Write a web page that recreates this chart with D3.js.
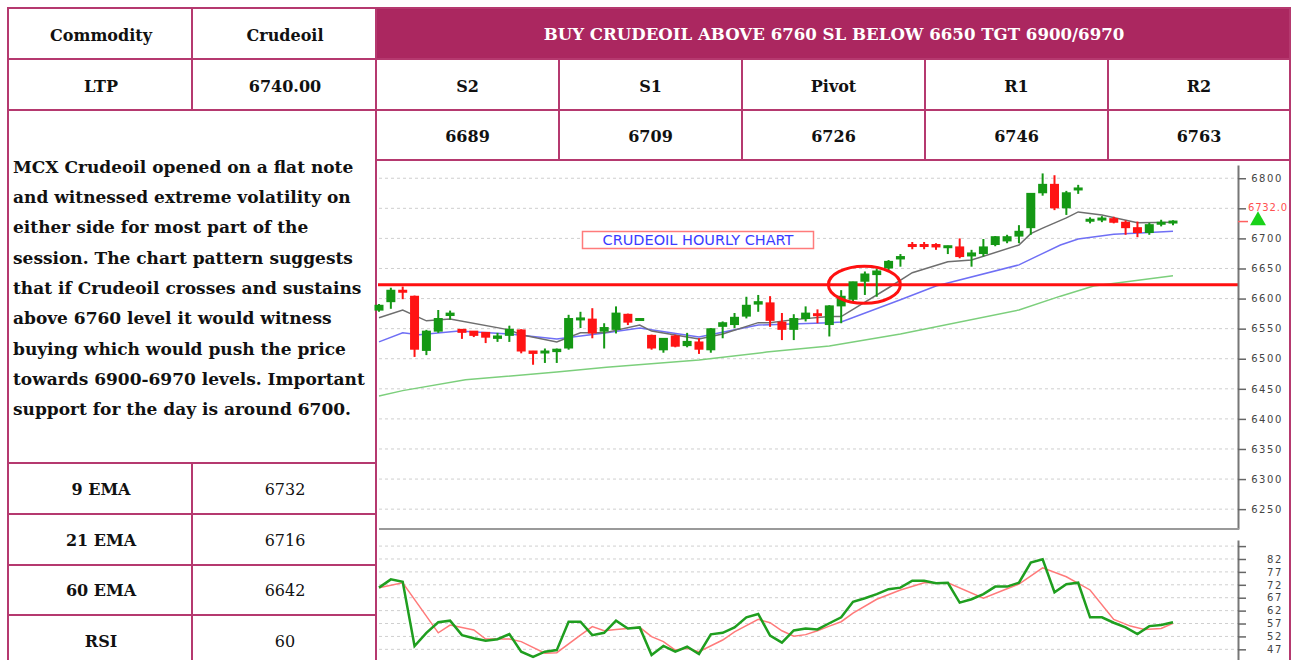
<!DOCTYPE html>
<html>
<head>
<meta charset="utf-8">
<script src="https://cdn.jsdelivr.net/npm/d3@7"></script>
<style>
  body { margin: 0; background: #fff; }
  svg { display: block; }
</style>
</head>
<body>
<svg id="drawing_region"></svg>
<script>
// ---- table content ----
var levelNames = ['S2', 'S1', 'Pivot', 'R1', 'R2'];
var levelValues = ['6689', '6709', '6726', '6746', '6763'];
var indNames = ['9 EMA', '21 EMA', '60 EMA', 'RSI'];
var indValues = ['6732', '6716', '6642', '60'];
var headline = 'BUY CRUDEOIL ABOVE 6760 SL BELOW 6650 TGT 6900/6970';
var descLines = [
    'MCX Crudeoil opened on a flat note',
    'and witnessed extreme volatility on',
    'either side for most part of the',
    'session. The chart pattern suggests',
    'that if Crudeoil crosses and sustains',
    'above 6760 level it would witness',
    'buying which would push the price',
    'towards 6900-6970 levels. Important',
    'support for the day is around 6700.'
];

// ---- hourly candles ----
var opens  = [6580,6594,6613,6603,6513,6545,6571,6548,6545,6543,6533,6538,6547,6512,6509,6511,6517,6565,6565,6545,
              6548,6573,6565,6538,6514,6537,6521,6527,6514,6553,6556,6570,6590,6592,6560,6548,6566,6574,6556,6587,
              6598,6628,6639,6650,6665,6689,6689,6689,6685,6685,6670,6674,6689,6695,6703,6717,6775,6789,6750,6781,
              6729,6731,6732,6726,6717,6709,6724,6726];
var highs  = [6591,6618,6620,6605,6548,6581,6580,6549,6546,6544,6543,6555,6549,6513,6517,6517,6573,6578,6584,6559,
              6587,6575,6567,6540,6534,6540,6543,6534,6551,6562,6576,6603,6606,6604,6576,6574,6587,6582,6589,6614,
              6628,6645,6650,6664,6674,6694,6694,6692,6688,6700,6681,6699,6704,6706,6722,6775,6808,6805,6779,6789,
              6735,6737,6736,6730,6728,6726,6731,6730];
var lows   = [6578,6583,6599,6503,6506,6543,6565,6533,6536,6526,6528,6528,6509,6490,6493,6493,6515,6551,6534,6517,
              6542,6556,6563,6515,6510,6519,6519,6508,6510,6534,6551,6567,6578,6553,6531,6531,6562,6559,6537,6559,
              6595,6606,6603,6645,6653,6682,6682,6681,6674,6667,6653,6670,6687,6692,6692,6706,6771,6747,6739,6774,
              6725,6727,6725,6706,6702,6706,6720,6722];
var closes = [6588,6613,6611,6515,6545,6566,6575,6543,6538,6535,6537,6548,6512,6508,6512,6515,6566,6567,6542,6551,
              6575,6560,6566,6517,6533,6520,6528,6515,6549,6559,6568,6588,6594,6563,6548,6566,6575,6572,6587,6603,
              6627,6640,6645,6661,6669,6687,6687,6685,6687,6669,6675,6685,6702,6702,6711,6774,6789,6750,6775,6783,
              6731,6733,6726,6717,6709,6722,6726,6728];

// moving averages (candle index, value)
var ema9Idx  = [0,2,4,6,11,12,15,17,19,22,23,27,29,32,33,35,38,39,43,45,48,50,54,55,56,58,59,61,64,67];
var ema9Val  = [6568,6581,6563,6566,6548,6540,6528,6543,6543,6556,6546,6533,6541,6560,6560,6565,6570,6570,6618,6643,
                6661,6664,6689,6708,6717,6734,6744,6739,6726,6727];
var ema21Idx = [0,2,3.4,6.75,11,15,19.2,22,27,32,38,39,44,47,54,55.8,57.5,59,62,64.2,67];
var ema21Val = [6528,6543,6540,6546,6541,6533,6543,6551,6536,6556,6560,6561,6598,6621,6656,6673,6689,6699,6707,6709,6712];
var ema60Idx = [0,2,7.3,15,19.2,27,32.7,38,44,54,57.5,60.3,67];
var ema60Val = [6438,6447,6465,6478,6486,6498,6511,6521,6541,6581,6604,6621,6638];

// RSI and its signal line
var rsi = [70.9,74.1,73.2,48.3,53.4,57.5,58.1,52.5,51.3,50.3,50.9,52.9,46.1,44.1,46.1,46.7,57.7,57.7,52.5,53.4,
           58.1,55.1,55.5,44.8,48.3,46.1,48.0,45.2,52.8,53.4,55.5,59.4,60.7,52.3,49.6,54.3,55.1,54.7,57.1,59.4,
           65.4,66.8,68.4,70.3,70.9,73.6,73.6,72.6,72.8,65.1,66.4,68.4,71.3,71.3,72.8,80.6,81.9,69.1,72.2,72.8,
           59.4,59.4,57.3,55.5,52.9,56.0,56.4,57.5];
var sigIdx = [0,2,5,6,8,9,11,12,14,15,17,18,19,20,22,23,24,25,26,27,29,30,32,33,34,35,36,37,38,39,40,42,44,46,48,51,54,56,58,60,62,63.4,64.6,66,67];
var sigVal = [70.9,72.8,53.4,56.4,54.5,51,51,50,45.5,45.7,52.5,55.8,54.2,54.7,55.5,51.9,50,46.7,47.4,46.1,50.6,53.8,58.6,57.3,54.2,
              52.1,52.7,54.2,56,57.7,61,66.4,70,72.8,72.8,66.8,72.3,78.6,75.1,70,58.6,56,54.7,55.1,57.1];

var priceTicks = [6250,6300,6350,6400,6450,6500,6550,6600,6650,6700,6750,6800];
var hiddenPriceLabel = 6750;   // covered by the last-price tag
var rsiTicks = [42,47,52,57,62,67,72,77,82,87];
var rsiLabels = [47,52,57,62,67,72,77,82];
var breakoutLevel = 6623;
var ltpTag = '6732.0';

var width = 1296, height = 660;
var border = '#b5396f', fill = '#ab2760';
var serif = "'DejaVu Serif', serif";
var sans = "'DejaVu Sans', sans-serif";

var svg = d3.select('#drawing_region')
    .attr('width', width)
    .attr('height', height);

// ---- table ----
var colX = [8, 192, 376, 559, 742, 925, 1108, 1290];
var leftRowY = [463, 514, 565, 615, 666];

svg.append('rect')
    .attr('x', colX[2]).attr('y', 8)
    .attr('width', colX[7] - colX[2]).attr('height', 51)
    .attr('fill', fill);

var grid = svg.append('g')
    .attr('stroke', border)
    .attr('stroke-width', 2)
    .attr('fill', 'none');

grid.append('rect').attr('x', 8).attr('y', 8).attr('width', colX[7] - 8).attr('height', 700);
[59, 110].forEach(function(yy) {
    grid.append('line').attr('x1', 8).attr('x2', colX[7]).attr('y1', yy).attr('y2', yy);
});
grid.append('line').attr('x1', colX[2]).attr('x2', colX[7]).attr('y1', 160).attr('y2', 160);
leftRowY.slice(0, 4).forEach(function(yy) {
    grid.append('line').attr('x1', 8).attr('x2', colX[2]).attr('y1', yy).attr('y2', yy);
});
grid.append('line').attr('x1', colX[1]).attr('x2', colX[1]).attr('y1', 8).attr('y2', 110);
grid.append('line').attr('x1', colX[1]).attr('x2', colX[1]).attr('y1', 463).attr('y2', 700);
grid.append('line').attr('x1', colX[2]).attr('x2', colX[2]).attr('y1', 8).attr('y2', 700);
colX.slice(3, 7).forEach(function(xx) {
    grid.append('line').attr('x1', xx).attr('x2', xx).attr('y1', 59).attr('y2', 160);
});

function cellText(cx, cy, txt, bold, color, size) {
    svg.append('text')
        .attr('x', cx).attr('y', cy)
        .attr('text-anchor', 'middle')
        .style('font-family', serif)
        .style('font-size', (size || 16) + 'px')
        .style('font-weight', bold ? 'bold' : 'normal')
        .attr('fill', color || '#111')
        .text(txt);
}

cellText(101, 41, 'Commodity', true);
cellText(285, 41, 'Crudeoil', true);
cellText(834, 40, headline, true, '#fff', 16.6);
cellText(101, 92, 'LTP', true);
cellText(285, 92, '6740.00', true);
levelNames.forEach(function(n, i) {
    cellText((colX[i + 2] + colX[i + 3]) / 2, 92, n, true);
    cellText((colX[i + 2] + colX[i + 3]) / 2, 142, levelValues[i], true);
});
indNames.forEach(function(n, i) {
    var cy = (leftRowY[i] + leftRowY[i + 1]) / 2 + 6;
    cellText(101, cy, n, true);
    cellText(285, cy, indValues[i], false);
});

svg.append('g').selectAll('text')
    .data(descLines)
    .enter()
    .append('text')
    .attr('x', 13)
    .attr('y', (d, i) => 172.7 + i * 30.3)
    .style('font-family', serif)
    .style('font-size', '17px')
    .style('font-weight', 'bold')
    .attr('fill', '#111')
    .text(d => d);

// ---- price panel ----
var axisX = 1238;
var xScale = d3.scaleLinear().domain([0, closes.length - 1]).range([379, 1173]);
var yScale = d3.scaleLinear().domain([6217, 6822]).range([529, 165]);
var rScale = d3.scaleLinear().domain([40, 89.36]).range([667.4, 540]);

var chart = svg.append('g');

chart.selectAll('.pgrid')
    .data(priceTicks)
    .enter()
    .append('line')
    .attr('x1', 379).attr('x2', axisX)
    .attr('y1', d => yScale(d)).attr('y2', d => yScale(d))
    .attr('stroke', '#cfcfcf')
    .attr('stroke-dasharray', '3,3');

var lineFor = function(idx) {
    return d3.line().x((d, i) => xScale(idx[i])).y(d => yScale(d));
};
chart.append('path').attr('d', lineFor(ema60Idx)(ema60Val))
    .attr('fill', 'none').attr('stroke', '#7ccf7c').attr('stroke-width', 1.5);
chart.append('path').attr('d', lineFor(ema21Idx)(ema21Val))
    .attr('fill', 'none').attr('stroke', '#6f6ff5').attr('stroke-width', 1.5);
chart.append('path').attr('d', lineFor(ema9Idx)(ema9Val))
    .attr('fill', 'none').attr('stroke', '#6e6e6e').attr('stroke-width', 1.5);

chart.append('line')
    .attr('x1', 378).attr('x2', axisX)
    .attr('y1', yScale(breakoutLevel)).attr('y2', yScale(breakoutLevel))
    .attr('stroke', '#ff1010').attr('stroke-width', 3);

var candles = chart.append('g').selectAll('g')
    .data(closes)
    .enter()
    .append('g');
var colorOf = function(i) { return closes[i] >= opens[i] ? '#149814' : '#ff1414'; };

candles.append('line')
    .attr('x1', (d, i) => xScale(i)).attr('x2', (d, i) => xScale(i))
    .attr('y1', (d, i) => yScale(highs[i])).attr('y2', (d, i) => yScale(lows[i]))
    .attr('stroke', (d, i) => colorOf(i))
    .attr('stroke-width', 2);
candles.append('rect')
    .attr('x', (d, i) => xScale(i) - 4.5)
    .attr('width', 9)
    .attr('y', (d, i) => yScale(Math.max(opens[i], closes[i])) - 1)
    .attr('height', (d, i) => Math.max(2, Math.abs(yScale(opens[i]) - yScale(closes[i]))) + 1)
    .attr('fill', (d, i) => colorOf(i));

// breakout circle
chart.append('ellipse')
    .attr('cx', xScale(41) - 0.5).attr('cy', yScale(breakoutLevel))
    .attr('rx', 36).attr('ry', 18.5)
    .attr('fill', 'none').attr('stroke', '#ff1010').attr('stroke-width', 3);

// title box
chart.append('rect')
    .attr('x', 582.5).attr('y', 231.5).attr('width', 231).attr('height', 17)
    .attr('fill', '#fff').attr('stroke', '#ff7b7b').attr('stroke-width', 1.5);
chart.append('text')
    .attr('x', 698).attr('y', 245)
    .attr('text-anchor', 'middle')
    .style('font-family', sans)
    .style('font-size', '14.5px')
    .attr('fill', '#3c3cff')
    .text('CRUDEOIL HOURLY CHART');

var priceAxis = svg.append('g')
    .attr('transform', 'translate(' + axisX + ',0)')
    .call(d3.axisRight(yScale).tickValues(priceTicks).tickSize(8).tickSizeOuter(0)
        .tickFormat(d => d === hiddenPriceLabel ? '' : d3.format('d')(d)));
priceAxis.select('.domain').attr('stroke', '#777').attr('stroke-width', 2);
priceAxis.selectAll('.tick line').attr('stroke', '#666').attr('stroke-width', 1.5);
priceAxis.selectAll('.tick text')
    .attr('x', 45).attr('text-anchor', 'end')
    .style('font-family', sans)
    .style('font-size', '10px')
    .style('letter-spacing', '1.6px')
    .attr('fill', '#444');

svg.append('line')
    .attr('x1', 379).attr('x2', axisX + 1)
    .attr('y1', 529).attr('y2', 529)
    .attr('stroke', '#9a9a9a').attr('stroke-width', 2);

// last price marker
var lastY = yScale(closes[closes.length - 1]);
svg.append('line')
    .attr('x1', axisX).attr('x2', axisX + 10)
    .attr('y1', lastY).attr('y2', lastY)
    .attr('stroke', '#ff6060').attr('stroke-width', 1.5);
svg.append('path')
    .attr('d', d3.symbol().type(d3.symbolTriangle).size(110))
    .attr('transform', 'translate(' + (axisX + 20) + ',' + (lastY - 1) + ')')
    .attr('fill', '#19d219');
svg.append('text')
    .attr('x', axisX + 10).attr('y', lastY - 11)
    .style('font-family', sans)
    .style('font-size', '10px')
    .style('letter-spacing', '0.8px')
    .attr('fill', '#ff5050')
    .text(ltpTag);

// ---- RSI panel ----
chart.selectAll('.rgrid')
    .data(rsiTicks)
    .enter()
    .append('line')
    .attr('x1', 379).attr('x2', axisX)
    .attr('y1', d => rScale(d)).attr('y2', d => rScale(d))
    .attr('stroke', '#cfcfcf')
    .attr('stroke-dasharray', '3,3');

chart.append('path')
    .attr('d', d3.line().x((d, i) => xScale(sigIdx[i])).y(d => rScale(d))(sigVal))
    .attr('fill', 'none').attr('stroke', '#ff7a7a').attr('stroke-width', 1.5);
chart.append('path')
    .attr('d', d3.line().x((d, i) => xScale(i)).y(d => rScale(d))(rsi))
    .attr('fill', 'none').attr('stroke', '#1f9e1f').attr('stroke-width', 2.5);

var rsiAxis = svg.append('g')
    .attr('transform', 'translate(' + axisX + ',0)')
    .call(d3.axisRight(rScale).tickValues(rsiTicks).tickSize(8).tickSizeOuter(0)
        .tickFormat(d => rsiLabels.indexOf(d) >= 0 ? d : ''));
rsiAxis.select('.domain').attr('stroke', '#777').attr('stroke-width', 2);
rsiAxis.selectAll('.tick line').attr('stroke', '#666').attr('stroke-width', 1.5);
rsiAxis.selectAll('.tick text')
    .attr('x', 45).attr('text-anchor', 'end')
    .style('font-family', sans)
    .style('font-size', '10px')
    .style('letter-spacing', '1.6px')
    .attr('fill', '#444');
</script>
</body>
</html>
